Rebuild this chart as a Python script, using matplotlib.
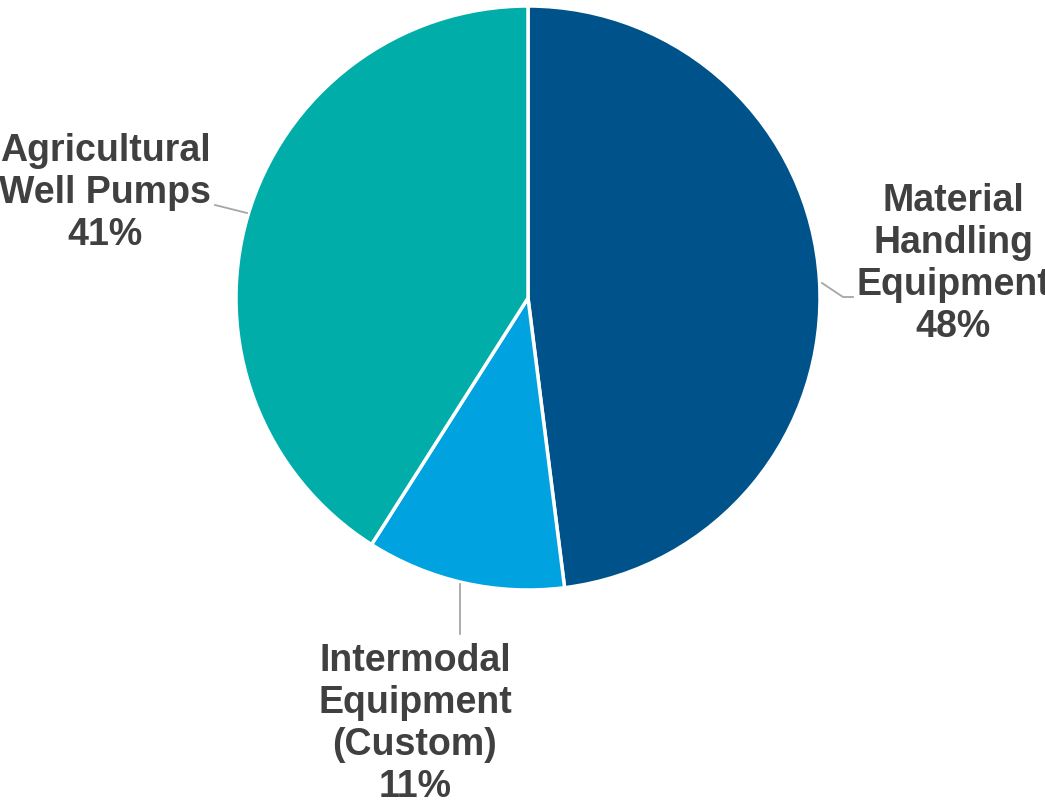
import matplotlib.pyplot as plt

plt.rcParams['font.family'] = ['Liberation Sans', 'DejaVu Sans']

categories = ['Material\nHandling\nEquipment', 'Intermodal\nEquipment\n(Custom)', 'Agricultural\nWell Pumps']
shares = [48, 11, 41]
colors = ['#00538A', '#00A3E0', '#00ADA8']

W, H = 1045, 805
CX, CY, R = 528, 298, 292  # pie centre and radius in pixels (y from top)

# label centres and leader polylines, pixels from top-left
label_pos = [(953, 264), (415, 724), (105, 193)]
leaders = [
    [(822, 283), (843, 297), (853, 297)],
    [(460, 584), (460, 634)],
    [(247, 213), (215, 205)],
]


def flip(pts):
    return [x for x, _ in pts], [H - y for _, y in pts]


fig = plt.figure(figsize=(W / 100, H / 100), dpi=100)
ax = fig.add_axes([0, 0, 1, 1])

ax.pie(shares, colors=colors, startangle=90, counterclock=False,
       center=(CX, H - CY), radius=R, frame=True,
       wedgeprops=dict(edgecolor='white', linewidth=2.5))
ax.set_xlim(0, W)
ax.set_ylim(0, H)
ax.set_aspect('equal')
ax.axis('off')

for name, val, (x, y), pts in zip(categories, shares, label_pos, leaders):
    xs, ys = flip(pts)
    ax.plot(xs, ys, color='#A6A6A6', lw=1.3)
    ax.text(x, H - y, f'{name}\n{val}%', ha='center', va='center',
            multialignment='center', fontsize=27, fontweight='bold',
            color='#404040', linespacing=1.22)

fig.savefig('out.png', dpi=100)
